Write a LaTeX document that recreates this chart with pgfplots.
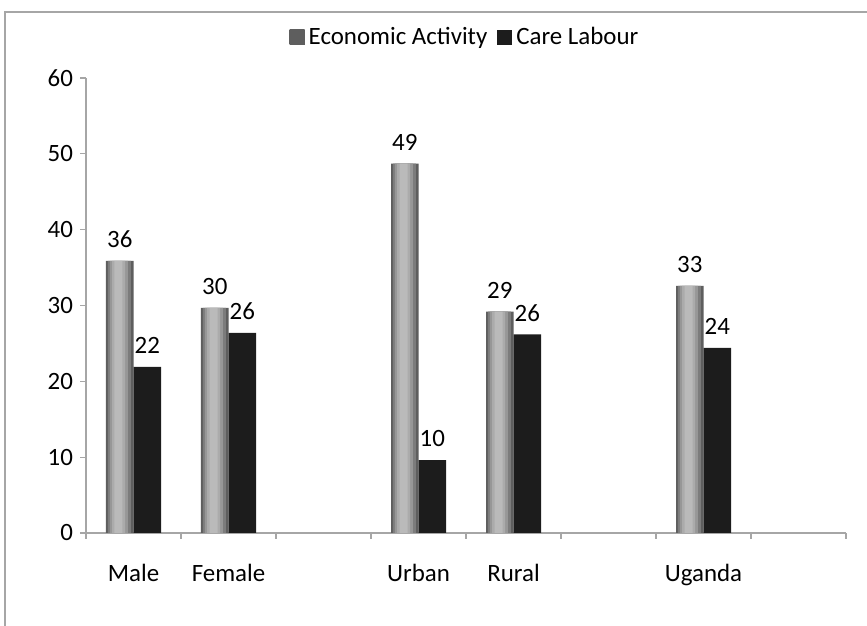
\documentclass[border=0pt]{standalone}
\usepackage{fontspec}
\setmainfont{Carlito}
\usepackage{pgfplots}
\pgfplotsset{compat=1.18}
\definecolor{axgray}{HTML}{A6A6A6}
\definecolor{g1}{HTML}{5E5E5E}
\definecolor{g2}{HTML}{7C7C7C}
\definecolor{g3}{HTML}{979797}
\definecolor{g4}{HTML}{ABABAB}
\definecolor{g5}{HTML}{BABABA}
\definecolor{barblack}{HTML}{1C1C1C}

\pgfplotstableread{
x  econ  care
0  35.9  21.9
1  29.7  26.4
3  48.7  9.6
4  29.2  26.2
6  32.6  24.4
}\datatable

\begin{document}
\begin{tikzpicture}
\useasboundingbox (0bp,0bp) rectangle (433.5bp,313bp);
\draw[axgray, line width=0.6bp] (2.5bp,0bp) -- (2.5bp,307bp) -- (433.5bp,307bp);
\begin{axis}[
    at={(43bp,46.5bp)}, anchor=south west,
    scale only axis,
    width=380bp, height=227.5bp,
    xmin=-0.5, xmax=7.5,
    ymin=0, ymax=60,
    ybar=0pt,
    axis x line*=bottom, axis y line*=left,
    axis line style={draw=axgray, line width=0.6bp, -},
    tick align=outside,
    xtick={0,1,3,4,6},
    xticklabels={Male,Female,Urban,Rural,Uganda},
    major x tick style={draw=none},
    minor xtick={-0.5,0.5,...,7.5},
    minor tick length=3bp,
    major tick length=3bp,
    tick style={axgray, line width=0.6bp},
    ytick={0,10,...,60},
    xticklabel style={yshift=-9bp},
    ticklabel style={font=\fontsize{12.5}{14}\selectfont},
    /pgf/number format/assume math mode=true,
    legend columns=-1,
    legend style={draw=none, at={(0.5,1.09)}, anchor=center,
        font=\fontsize{12.5}{14}\selectfont,
        /tikz/every even column/.append style={column sep=3bp}},
]
% economic activity: layered bars give the cylinder shading
\addplot[draw=none, fill=g1, bar width=13.75bp, bar shift=-6.875bp,
    nodes near coords={\pgfmathprintnumber[fixed,precision=0]{\pgfplotspointmeta}},
    every node near coord/.append style={font=\fontsize{12.5}{14}\selectfont, yshift=3bp, text=black},
    legend image code/.code={\shade[left color=g1, middle color=g5, right color=g1] (0bp,-3.75bp) rectangle (7.5bp,3.75bp);}]
  table[x=x, y=econ] {\datatable};
\addlegendentry{Economic Activity}
\addplot[draw=none, fill=g2, bar width=11.5bp, bar shift=-7.1bp, forget plot]
  table[x=x, y=econ] {\datatable};
\addplot[draw=none, fill=g3, bar width=9bp, bar shift=-7.3bp, forget plot]
  table[x=x, y=econ] {\datatable};
\addplot[draw=none, fill=g4, bar width=6.5bp, bar shift=-7.4bp, forget plot]
  table[x=x, y=econ] {\datatable};
\addplot[draw=none, fill=g5, bar width=4bp, bar shift=-7.5bp, forget plot]
  table[x=x, y=econ] {\datatable};
% care labour
\addplot[draw=none, fill=barblack, bar width=13.75bp, bar shift=6.875bp,
    nodes near coords={\pgfmathprintnumber[fixed,precision=0]{\pgfplotspointmeta}},
    every node near coord/.append style={font=\fontsize{12.5}{14}\selectfont, yshift=3bp, text=black},
    legend image code/.code={\fill[barblack] (0bp,-3.75bp) rectangle (7.5bp,3.75bp);}]
  table[x=x, y=care] {\datatable};
\addlegendentry{Care Labour}
\end{axis}
\end{tikzpicture}
\end{document}
